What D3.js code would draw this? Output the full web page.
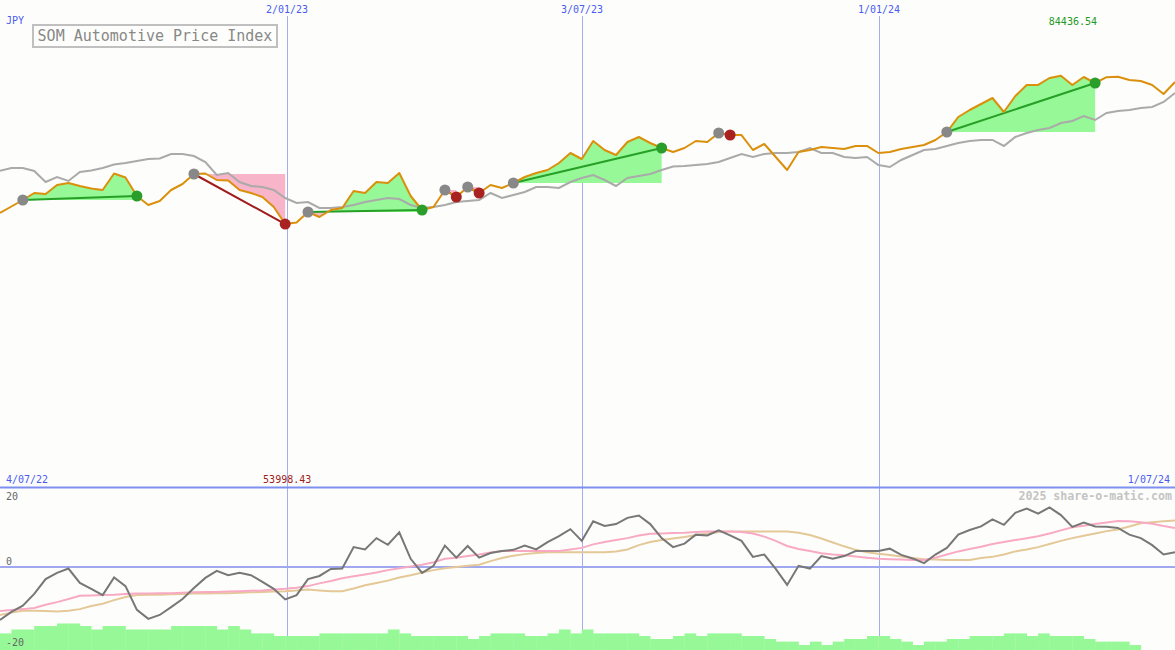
<!DOCTYPE html>
<html><head><meta charset="utf-8">
<script src="https://cdn.jsdelivr.net/npm/d3@7"></script>
<style>html,body{margin:0;padding:0;background:#fdfefb;} svg{display:block;}</style>
</head><body>
<svg id="c" width="1175" height="650"></svg>
<script>
// ---- data (weekly closes, JPY) ----
const price = [56263,57598,58933,60370,60165,62013,62423,61807,61294,60986,
64374,63553,59754,57906,58727,60986,62218,64271,64374,63039,
62937,60986,60370,59549,57495,53998.43,54312,56469,55442,56879,
57290,60781,60370,62629,62423,64477,59754,56879,57495,60986,
59549,61602,60370,62013,61397,62423,63655,64477,65093,66530,
68584,67352,71048,69200,68173,70842,71869,70637,69610,68789,
69610,71048,70842,72690,72280,72260,69200,70432,67762,65093,
68789,69200,69816,69610,69405,70021,70040,68584,68789,69405,
69816,70226,71253,72896,75976,77413,78645,79877,77003,80288,
82547,82560,83984,84436.54,82547,84189,82957,84150,84230,83573,
83368,82547,80699,83163];
const average = [64949,65503,65480,64887,62629,63655,62834,64682,64990,65503,
66222,66530,66941,67352,67454,68378,68390,67968,66736,64066,
64477,62629,61807,61602,60986,59343,58317,58522,57290,57300,
57495,57906,58522,58933,59343,59138,57906,57290,57495,57906,
58522,58727,58933,60370,59343,59959,60575,61602,61610,61397,
62629,63450,64066,63039,61807,63450,63861,64271,65093,65812,
65914,66119,66325,66736,67557,68378,67762,68378,68584,68590,
68789,69610,68584,68590,67762,67557,67762,66119,65709,67146,
68173,69200,69405,70021,70637,71048,71253,71260,70021,71869,
72690,73306,73717,74744,75154,76181,75360,76797,77208,77413,
77824,78029,79056,80904];
const momentum = [-13.6,-11.5,-9.9,-6.9,-3.1,-1.5,-0.4,-4.1,-5.6,-7.2,
-2.7,-4.9,-11.0,-13.3,-12.3,-10.3,-8.2,-5.4,-2.8,-1.0,
-2.1,-1.5,-2.1,-3.8,-5.6,-8.3,-7.2,-3.1,-2.3,-0.5,
-0.4,5.1,4.5,7.4,5.7,8.9,2.1,-1.5,0.3,5.5,
2.4,5.4,2.4,3.6,4.1,4.4,5.5,4.5,6.4,7.9,
9.7,6.7,11.7,10.5,11.0,12.6,13.2,11.0,7.4,5.1,
6.0,8.3,8.1,9.4,8.1,6.7,2.6,3.2,-0.5,-4.6,
0.3,-0.4,2.8,2.1,2.8,4.1,4.1,4.1,4.7,3.1,
2.2,1.0,3.2,4.9,8.3,9.5,10.4,12.2,10.8,13.9,
15.0,13.7,15.3,13.3,10.3,11.4,10.4,10.3,10.0,8.3,
7.4,5.6,3.2,3.8];
const signalFast = [-11.3,-11.0,-10.8,-10.5,-9.7,-9.0,-8.2,-7.4,-7.3,-7.2,
-7.1,-6.9,-6.8,-6.8,-6.7,-6.7,-6.6,-6.5,-6.4,-6.4,
-6.3,-6.2,-6.1,-6.0,-5.8,-5.6,-5.3,-4.9,-4.2,-3.6,
-2.9,-2.4,-1.9,-1.4,-0.8,-0.3,0.1,0.6,1.2,2.1,
2.4,2.8,3.2,3.7,4.1,4.1,4.1,4.1,4.1,4.1,
4.5,4.9,5.8,6.4,6.9,7.4,8.1,8.5,8.6,8.7,
8.8,9.0,9.1,9.1,9.1,9.0,8.6,7.8,6.7,5.4,
4.6,4.1,3.5,3.2,3.0,2.7,2.4,2.1,2.0,1.9,
1.8,1.8,2.4,3.2,4.0,4.6,5.2,5.9,6.4,6.9,
7.4,7.9,8.6,9.4,10.2,10.6,11.0,11.4,11.8,11.7,
11.5,11.1,10.5,10.0];
const signalSlow = [-12.3,-11.7,-11.2,-11.2,-11.3,-11.4,-11.2,-10.8,-10.0,-9.4,
-8.5,-7.7,-7.2,-7.1,-7.1,-7.0,-6.9,-6.8,-6.8,-6.7,
-6.7,-6.6,-6.5,-6.4,-6.3,-6.2,-6.0,-5.8,-6.0,-6.2,
-6.2,-5.5,-4.7,-4.1,-3.5,-2.7,-2.1,-1.4,-0.8,-0.3,
0.0,0.3,0.6,1.5,2.3,2.9,3.3,3.6,3.8,3.8,
3.8,3.8,3.8,3.8,4.0,4.5,5.6,6.4,6.9,7.3,
7.7,8.2,8.6,9.0,9.1,9.1,9.1,9.1,9.1,9.1,
8.8,8.2,7.3,6.3,5.3,4.4,3.8,3.4,3.1,2.7,
2.3,2.0,1.9,1.8,1.8,1.8,2.3,2.6,3.2,4.0,
4.5,5.1,5.9,6.7,7.4,8.0,8.6,9.2,9.6,10.4,
11.2,11.5,11.7,11.9];
const activity = [16.6,20.5,20.5,24,24,26.5,26.5,24,20.5,24,
24,20.5,20.5,20.5,20.5,24,24,24,24,20.5,
24,20.5,16.6,16.6,14,14,14,14,16.6,16.6,
16.6,16.6,16.6,16.6,20.5,16.6,14,14,14,14,
14,11,14,16.6,16.6,16.6,14,14,16.6,20.5,
16.6,20.5,16.6,16.6,16.6,16.6,14,11,11,14,
16.6,14,16.6,16.6,16.6,14,14,11,8.4,8.4,
5,8.4,5,8.4,11,11,14,14,11,8.4,
5,8.4,8.4,11,11,14,14,14,16.6,16.6,
14,16.6,14,14,14,11,8.4,8.4,8.4,5];
const entryIdx = [2,17,27,39,41,45,63,83];
const exitIdx  = [12,25,37,40,42,58,64,96];
const gridLabels = ["2/01/23","3/07/23","1/01/24"];
const gridPos = [25.16, 51.02, 77.05];
const startLabel = "4/07/22", endLabel = "1/07/24";
const currency = "JPY";
const title = "SOM Automotive Price Index";
const lowerTicks = [20, 0, -20];
const credit = "2025 share-o-matic.com";

// ---- drawing ----
const W = 1175, H = 650, SPLIT = 487;
const svg = d3.select("#c");
const mono = "'DejaVu Sans Mono', 'Liberation Mono', monospace";
const x = d3.scaleLinear().domain([0, price.length - 1]).range([0, W]);
const y = d3.scaleLinear().domain([0, 100000]).range([SPLIT, 0]);
const yl = d3.scaleLinear().domain([-20, 20]).range([645, 489]);
const yb = d3.scaleLinear().domain([0, 30]).range([H, H - 30]);

svg.append("rect").attr("width", W).attr("height", H).attr("fill", "#fdfefb");

// vertical grid lines
svg.selectAll("line.grid").data(gridPos).join("line")
  .attr("x1", d => Math.round(x(d)) + 0.5).attr("x2", d => Math.round(x(d)) + 0.5)
  .attr("y1", 16).attr("y2", H)
  .attr("stroke", "#a4acf2").attr("stroke-width", 1);

const defs = svg.append("defs");
const gMain = svg.append("g");

// trade fills
entryIdx.forEach((a, k) => {
  const b = exitIdx[k];
  const L = price[a];
  const idx = d3.range(a, b + 1);
  const area = d3.area().x(i => x(i)).y0(y(L)).y1(i => y(price[i]));
  const cu = "cu" + k, cd = "cd" + k;
  defs.append("clipPath").attr("id", cu).append("rect")
    .attr("x", 0).attr("y", 0).attr("width", W).attr("height", y(L));
  defs.append("clipPath").attr("id", cd).append("rect")
    .attr("x", 0).attr("y", y(L)).attr("width", W).attr("height", SPLIT - y(L));
  gMain.append("path").datum(idx).attr("d", area)
    .attr("fill", "#96f896").attr("clip-path", `url(#${cu})`);
  gMain.append("path").datum(idx).attr("d", area)
    .attr("fill", "#f8b4c8").attr("clip-path", `url(#${cd})`);
});

// moving average
gMain.append("path").datum(d3.range(average.length))
  .attr("d", d3.line().x(i => x(i)).y(i => y(average[i])))
  .attr("fill", "none").attr("stroke", "#aaaaaa").attr("stroke-width", 2);

// trade lines
entryIdx.forEach((a, k) => {
  const b = exitIdx[k];
  const win = price[b] >= price[a];
  gMain.append("line")
    .attr("x1", x(a)).attr("y1", y(price[a])).attr("x2", x(b)).attr("y2", y(price[b]))
    .attr("stroke", win ? "#26a026" : "#a01c1c").attr("stroke-width", 2);
});

// price line
gMain.append("path").datum(d3.range(price.length))
  .attr("d", d3.line().x(i => x(i)).y(i => y(price[i])))
  .attr("fill", "none").attr("stroke", "#da900c").attr("stroke-width", 2)
  .attr("stroke-linejoin", "round");

// markers
entryIdx.forEach((a, k) => {
  const b = exitIdx[k];
  const win = price[b] >= price[a];
  gMain.append("circle").attr("cx", x(a)).attr("cy", y(price[a])).attr("r", 5.5)
    .attr("fill", "#888888");
  gMain.append("circle").attr("cx", x(b)).attr("cy", y(price[b])).attr("r", 5.5)
    .attr("fill", win ? "#2a9e2a" : "#a82222");
});

// labels top
svg.selectAll("text.gl").data(gridPos).join("text")
  .attr("x", d => x(d)).attr("y", 13).attr("text-anchor", "middle")
  .attr("font-family", mono).attr("font-size", 10).attr("fill", "#4a5cf0")
  .text((d, i) => gridLabels[i]);
svg.append("text").attr("x", 6).attr("y", 24).attr("font-family", mono)
  .attr("font-size", 10).attr("fill", "#4a5cf0").text(currency);

// title box
svg.append("rect").attr("x", 33).attr("y", 25).attr("width", 244).attr("height", 22)
  .attr("fill", "#fdfefb").attr("stroke", "#c0c0c0").attr("stroke-width", 2);
svg.append("text").attr("x", 155).attr("y", 41).attr("text-anchor", "middle")
  .attr("font-family", mono).attr("font-size", 15).attr("fill", "#888888").text(title);

// max / min labels
const iMax = d3.maxIndex(price), iMin = d3.minIndex(price);
svg.append("text").attr("x", x(iMax) + 12).attr("y", 25).attr("text-anchor", "middle")
  .attr("font-family", mono).attr("font-size", 10).attr("fill", "#229a22")
  .text(d3.format(".2f")(price[iMax]));
svg.append("text").attr("x", x(iMin) + 2).attr("y", 483).attr("text-anchor", "middle")
  .attr("font-family", mono).attr("font-size", 10).attr("fill", "#a01c1c")
  .text(d3.format(".2f")(price[iMin]));
svg.append("text").attr("x", 6).attr("y", 483).attr("font-family", mono)
  .attr("font-size", 10).attr("fill", "#4a5cf0").text(startLabel);
svg.append("text").attr("x", 1170).attr("y", 483).attr("text-anchor", "end")
  .attr("font-family", mono).attr("font-size", 10).attr("fill", "#4a5cf0").text(endLabel);

// separator
svg.append("line").attr("x1", 0).attr("x2", W).attr("y1", SPLIT + 0.5).attr("y2", SPLIT + 0.5)
  .attr("stroke", "#7f8ff0").attr("stroke-width", 2);

// lower panel
const gLow = svg.append("g");
gLow.selectAll("rect.bar").data(activity).join("rect")
  .attr("x", (d, i) => x(i)).attr("width", (d, i) => x(i + 1) - x(i) + 0.3)
  .attr("y", d => yb(d)).attr("height", d => H - yb(d)).attr("fill", "#96f896");
gLow.append("line").attr("x1", 0).attr("x2", W).attr("y1", yl(0)).attr("y2", yl(0))
  .attr("stroke", "#a0a8f0").attr("stroke-width", 2);
const lowLine = arr => d3.line().x((d, i) => x(i)).y(d => yl(d))(arr);
gLow.append("path").attr("d", lowLine(signalSlow)).attr("fill", "none")
  .attr("stroke", "#e4c898").attr("stroke-width", 2);
gLow.append("path").attr("d", lowLine(signalFast)).attr("fill", "none")
  .attr("stroke", "#f8aac4").attr("stroke-width", 2);
gLow.append("path").attr("d", lowLine(momentum)).attr("fill", "none")
  .attr("stroke", "#777777").attr("stroke-width", 2);

gLow.selectAll("text.lt").data(lowerTicks).join("text")
  .attr("x", 6).attr("y", d => d === 20 ? 500 : d === 0 ? 565 : 646)
  .attr("font-family", mono).attr("font-size", 10).attr("fill", "#666666")
  .text(d => d);
gLow.append("text").attr("x", 1172).attr("y", 500).attr("text-anchor", "end")
  .attr("font-family", mono).attr("font-size", 11.6).attr("font-weight", "bold")
  .attr("fill", "#c4c4c4").text(credit);
</script>
</body></html>
